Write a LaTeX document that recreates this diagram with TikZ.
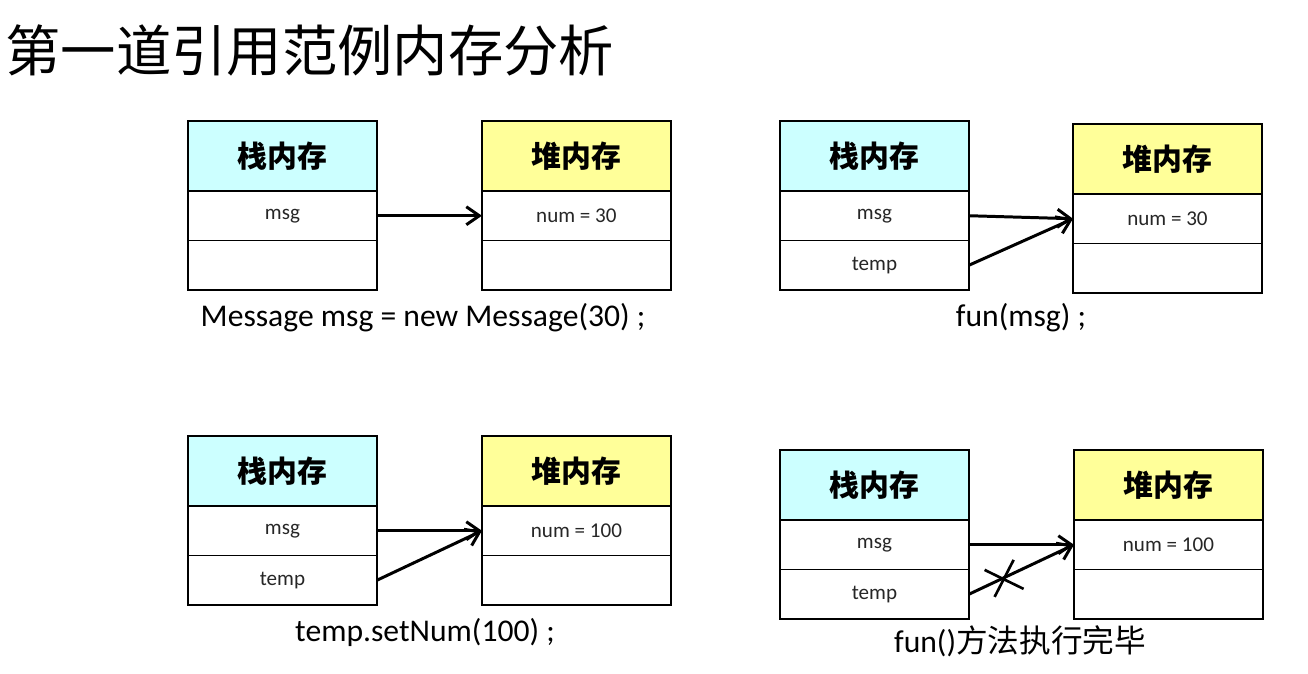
\documentclass[tikz,border=0pt]{standalone}
\usepackage{fontspec}
\setmainfont{Carlito}
\newfontfamily\cjk{Noto Sans CJK SC}
\usetikzlibrary{positioning,calc,arrows.meta}
\definecolor{stackfill}{HTML}{CCFFFF}
\definecolor{heapfill}{HTML}{FFFF99}

\begin{document}
\begin{tikzpicture}[
            x=0.02cm,y=-0.02cm,
            node distance=0pt,
            cell/.style={draw,line width=0.9pt,minimum width=3.78cm,minimum height=0.99cm,inner sep=0pt,outer sep=0pt,text=black!85,font=\fontsize{12}{14}\selectfont},
            stack head/.style={cell,fill=stackfill,minimum height=1.4cm,text=black,font=\cjk\bfseries\fontsize{17}{20}\selectfont},
            heap head/.style={stack head,fill=heapfill},
            caption/.style={font=\fontsize{18}{21}\selectfont},
            ref/.style={line width=1.7pt,-{Straight Barb[length=2.6mm,width=3.6mm]}},
        ]
            \useasboundingbox (0,0) rectangle (1308,673);
            \node[anchor=west,inner sep=0pt,font=\cjk\fontsize{31.5}{36}\selectfont] (title) at (5,50) {第一道引用范例内存分析};

            % Message msg = new Message(30)
            \node[stack head,anchor=north west] (sA) at (188,121) {栈内存};
            \node[cell,below=of sA] (sA1) {msg};
            \node[cell,below=of sA1] (sA2) {};
            \node[heap head,right=2.1cm of sA] (hA) {堆内存};
            \node[cell,below=of hA] (hA1) {num = 30};
            \node[cell,below=of hA1] (hA2) {};
            \draw[ref] (sA1) -- (hA1);
            \node[caption] (cA) at (423,318) {Message msg = new Message(30) ;};

            % fun(msg)
            \node[stack head,anchor=north west] (sB) at (780,121) {栈内存};
            \node[cell,below=of sB] (sB1) {msg};
            \node[cell,below=of sB1] (sB2) {temp};
            \node[heap head,anchor=north west] (hB) at (1073,124) {堆内存};
            \node[cell,below=of hB] (hB1) {num = 30};
            \node[cell,below=of hB1] (hB2) {};
            \draw[ref] (sB1.east) -- (hB1.west);
            \draw[ref] (sB2.east) -- (hB1.west);
            \node[caption] (cB) at (1021,318) {fun(msg) ;};

            % temp.setNum(100)
            \node[stack head,anchor=north west] (sC) at (188,436) {栈内存};
            \node[cell,below=of sC] (sC1) {msg};
            \node[cell,below=of sC1] (sC2) {temp};
            \node[heap head,right=2.1cm of sC] (hC) {堆内存};
            \node[cell,below=of hC] (hC1) {num = 100};
            \node[cell,below=of hC1] (hC2) {};
            \draw[ref] (sC1.east) -- (hC1.west);
            \draw[ref] (sC2.east) -- (hC1.west);
            \node[caption] (cC) at (425,632) {temp.setNum(100) ;};

            % after fun()
            \node[stack head,anchor=north west] (sD) at (780,450) {栈内存};
            \node[cell,below=of sD] (sD1) {msg};
            \node[cell,below=of sD1] (sD2) {temp};
            \node[heap head,right=2.1cm of sD] (hD) {堆内存};
            \node[cell,below=of hD] (hD1) {num = 100};
            \node[cell,below=of hD1] (hD2) {};
            \draw[ref] (sD1.east) -- (hD1.west);
            \draw[ref] (sD2.east) -- coordinate[pos=0.33] (xD) (hD1.west);
            \draw[line width=1.5pt] ($(xD)+(-19,-8)$) -- ($(xD)+(20,11)$);
            \draw[line width=1.5pt] ($(xD)+(10,-18)$) -- ($(xD)+(-9,19)$);
            \node[caption] (cD) at (1020,641) {fun(){\cjk 方法执行完毕}};
        \end{tikzpicture}
\end{document}
